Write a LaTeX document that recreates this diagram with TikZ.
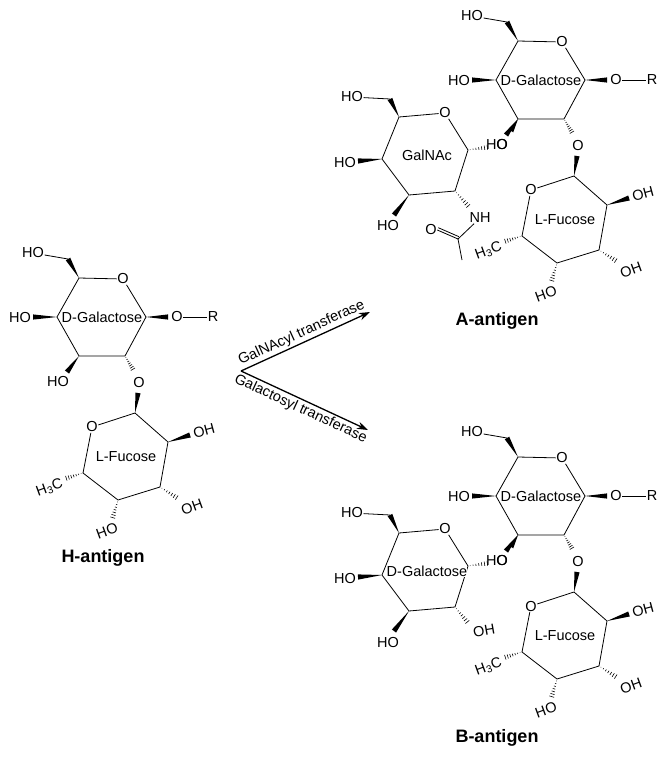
\documentclass[tikz,border=0pt]{standalone}
\usepackage{fontspec}
\setmainfont{Liberation Sans}
\usetikzlibrary{calc,arrows.meta}
\tikzset{
  bond/.style={line width=0.8pt},
  atom/.style={font=\fontsize{14.5}{14.5}\selectfont, inner sep=0.5pt},
  sugar/.style={font=\fontsize{14.5}{14.5}\selectfont, fill=white, inner sep=0.2pt},
  title/.style={font=\bfseries\fontsize{18}{18}\selectfont},
  arr/.style={line width=1.3pt,-{Stealth[length=11pt,width=7.5pt]}},
  arrlab/.style={font=\fontsize{14.5}{15}\selectfont, sloped, inner sep=2pt}
}
\newcommand\wdg[2]{\fill (#1) -- ($(#2)!2.6pt!90:(#1)$) -- ($(#2)!2.6pt!-90:(#1)$) -- cycle;}
\newcommand\hsh[2]{\foreach \t in {0.1,0.23,...,0.95}{%
  \coordinate (hp) at ($(#1)!\t!(#2)$);
  \pgfmathsetmacro\hw{\t*2.8}
  \draw[line width=0.6pt] ($(hp)!\hw pt!90:(#2)$) -- ($(hp)!\hw pt!-90:(#2)$);}}
% core: D-galactose + L-fucose (H-antigen frame)
\newcommand\core[1]{%
  \coordinate (#1C5) at (79,278); \coordinate (#1C1) at (146,317);
  \coordinate (#1C2) at (125,356); \coordinate (#1C3) at (79,356);
  \coordinate (#1C4) at (57,317); \coordinate (#1C6) at (68,259);
  \node[atom] (#1O5) at (123,279) {O};
  \node[atom] (#1HO6) at (33,253) {HO};
  \node[atom] (#1HO4) at (20,318) {HO};
  \node[atom] (#1HO3) at (58,382) {HO};
  \node[atom] (#1OR) at (177,317) {O};
  \node[atom] (#1R) at (213,317) {R};
  \node[atom] (#1OG) at (139,383) {O};
  \draw[bond] (#1C5) -- (#1O5) -- (#1C1) -- (#1C2) -- (#1C3) -- (#1C4) -- (#1C5);
  \draw[bond] (#1C6) -- (#1HO6);
  \draw[bond] (#1OR) -- (#1R);
  \coordinate (#1w1) at (33,317); \wdg{#1C4}{#1w1}
  \wdg{#1C5}{#1C6}
  \coordinate (#1w2) at (168,317); \wdg{#1C1}{#1w2}
  \coordinate (#1w3) at (67,372); \wdg{#1C3}{#1w3}
  \coordinate (#1w4) at (134,371); \hsh{#1C2}{#1w4}
  \node[sugar] at (102,317) {D-Galactose};
  % fucose
  \coordinate (#1F1) at (135,413); \coordinate (#1F5) at (83,473);
  \coordinate (#1F4) at (118,500); \coordinate (#1F3) at (160,487);
  \coordinate (#1F2) at (168,442);
  \node[atom] (#1FO) at (92,427) {O};
  \draw[bond] (#1F1) -- (#1FO) -- (#1F5) -- (#1F4) -- (#1F3) -- (#1F2) -- (#1F1);
  \coordinate (#1w5) at (138,393); \wdg{#1F1}{#1w5}
  \coordinate (#1w6) at (190,435); \wdg{#1F2}{#1w6}
  \node[atom,rotate=15] (#1FOH2) at (204,431) {OH};
  \coordinate (#1w7) at (179,499); \hsh{#1F3}{#1w7}
  \node[atom,rotate=20] (#1FOH3) at (192,507) {OH};
  \coordinate (#1w8) at (112,520); \hsh{#1F4}{#1w8}
  \node[atom,rotate=20] (#1FHO4) at (107,531) {HO};
  \coordinate (#1w9) at (64,479); \hsh{#1F5}{#1w9}
  \node[atom,rotate=20,anchor=east] (#1FMe) at (63,483) {H\textsubscript{3}C};
  \node[sugar,fill=none] at (126,457) {L-Fucose};
}
% extra ring (relative to core frame)
\newcommand\extra[2]{%
  \coordinate (#1X5) at (-40,354); \coordinate (#1X1) at (29,387);
  \coordinate (#1X2) at (16,428); \coordinate (#1X3) at (-30,432);
  \coordinate (#1X4) at (-57,396); \coordinate (#1X6) at (-49,336);
  \node[atom] (#1XO) at (6,350) {O};
  \node[atom] (#1XHO6) at (-87,334) {HO};
  \node[atom] (#1XHO4) at (-94,400) {HO};
  \node[atom] (#1XHO3) at (-51,463) {HO};
  \node[atom] (#1XOG) at (63,382) {O};
  \draw[bond] (#1X5) -- (#1XO) -- (#1X1) -- (#1X2) -- (#1X3) -- (#1X4) -- (#1X5);
  \draw[bond] (#1X6) -- (#1XHO6);
  \wdg{#1X5}{#1X6}
  \coordinate (#1v1) at (-81,398); \wdg{#1X4}{#1v1}
  \coordinate (#1v2) at (-45,452); \wdg{#1X3}{#1v2}
  \coordinate (#1v3) at (51,384); \hsh{#1X1}{#1v3}
  \coordinate (#1v4) at (72,368); \wdg{#1C3}{#1v4}
  \node[sugar] at (-12,392) {#2};
}
\begin{document}
\begin{tikzpicture}[x=1pt,y=-1pt]
\useasboundingbox (0,0) rectangle (668,758);
% H-antigen
\core{h}
\node[title] (Hlab) at (103,558) {H-antigen};
% A-antigen
\begin{scope}[shift={(439,-237)}]
  \core{a}
  \extra{a}{GalNAc}
  \coordinate (aN0) at (31,445); \hsh{aX2}{aN0}
  \node[atom] (aNH) at (41,455) {NH};
  \coordinate (aCO) at (19,476); \coordinate (aMe) at (23,497);
  \node[atom] (aO) at (-8,467) {O};
  \draw[bond] (aNH) -- (aCO) -- (aMe);
  \draw[bond] (aO.east) -- (aCO);
  \draw[bond] ($(aO.east)!2.5pt!90:(aCO)$) -- ($(aCO)!2.5pt!-90:(aO.east)$);
\end{scope}
\node[title] (Alab) at (497,321) {A-antigen};
% B-antigen
\begin{scope}[shift={(439,179)}]
  \core{b}
  \extra{b}{D-Galactose}
  \coordinate (bN0) at (30,445); \hsh{bX2}{bN0}
  \node[atom,rotate=10] (bOH) at (45,452) {OH};
\end{scope}
\node[title] (Blab) at (497,738) {B-antigen};
% arrows
\coordinate (ap) at (241,371);
\coordinate (at) at (370,312);
\coordinate (bt) at (368,430);
\draw[arr] (ap) -- (at) node[arrlab, midway, above] {GalNAcyl transferase};
\draw[arr] (ap) -- (bt) node[arrlab, midway, below] {Galactosyl transferase};
\end{tikzpicture}
\end{document}
